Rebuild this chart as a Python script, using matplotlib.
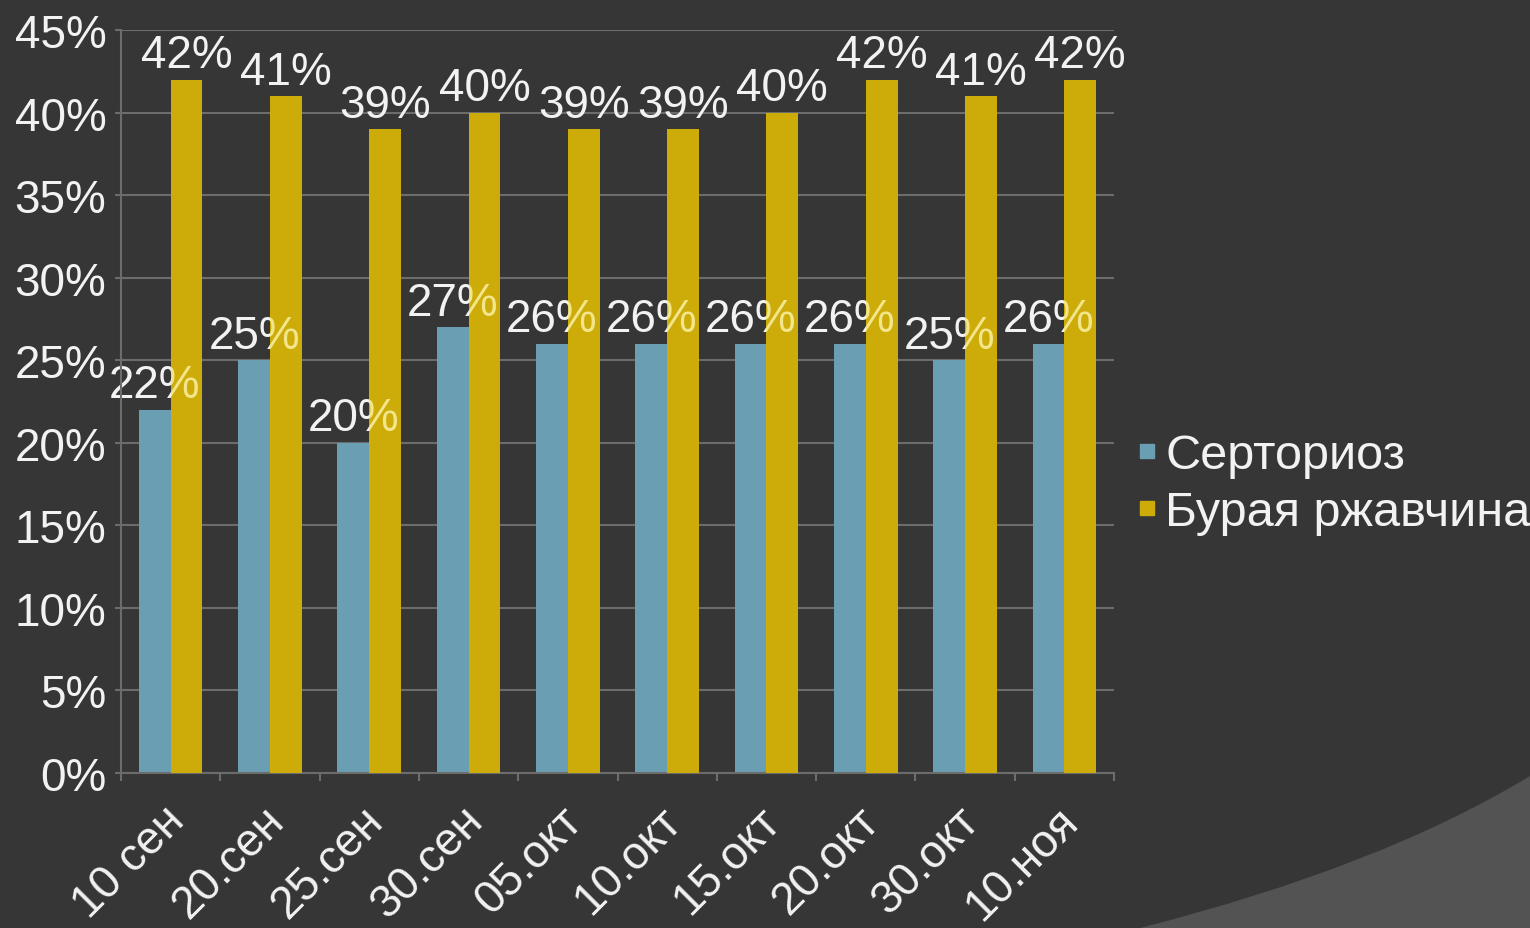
import matplotlib.pyplot as plt
import matplotlib.transforms as mtransforms
import numpy as np
from matplotlib.path import Path
from matplotlib.patches import PathPatch
from matplotlib.lines import Line2D

dates = ['10 сен', '20.сен', '25.сен', '30.сен', '05.окт',
         '10.окт', '15.окт', '20.окт', '30.окт', '10.ноя']
septoria = [22, 25, 20, 27, 26, 26, 26, 26, 25, 26]
brown_rust = [42, 41, 39, 40, 39, 39, 40, 42, 41, 42]
series_names = ['Серториоз', 'Бурая ржавчина']

bg = '#363636'
blue = '#6a9fb3'
gold = '#cdac0a'
grid_c = '#6c6c6c'
txt = '#f2f2f2'

plt.rcParams['font.family'] = ['Liberation Sans', 'DejaVu Sans']

fig = plt.figure(figsize=(15.3, 9.29), dpi=100, facecolor=bg)

# lighter curved decoration in the lower right corner
W, H = 1530, 929
pts = [(1140, 929), (1380, 868), (1530, 777), (1530, 929), (1140, 929)]
codes = [Path.MOVETO, Path.CURVE3, Path.CURVE3, Path.LINETO, Path.CLOSEPOLY]
verts = [(x / W, 1 - y / H) for x, y in pts]
fig.add_artist(PathPatch(Path(verts, codes), transform=fig.transFigure,
                         facecolor='#535353', edgecolor='none', zorder=0))

ax = fig.add_axes([0.0791, 0.1668, 0.6490, 0.7998])
ax.set_facecolor('none')

x = np.arange(len(dates))
w = 0.32
bars1 = ax.bar(x - w / 2, septoria, w, color=blue, zorder=2)
bars2 = ax.bar(x + w / 2, brown_rust, w, color=gold, zorder=3)

ax.set_xlim(-0.5, len(dates) - 0.5)
ax.set_ylim(0, 45)
ax.set_yticks(np.arange(0, 46, 5))
ax.set_yticklabels([f'{v}%' for v in range(0, 46, 5)])
ax.yaxis.grid(True, color=grid_c, lw=1.5, zorder=0)
ax.set_axisbelow(True)

ax.set_xticks(np.arange(-0.5, len(dates), 1), minor=False)
ax.set_xticklabels([])
ax.set_xticks(x, minor=True)
ax.set_xticklabels(dates, minor=True, rotation=45, ha='right',
                   rotation_mode='anchor', fontsize=33, color=txt)
ax.tick_params(axis='x', which='minor', length=0, pad=18)
ax.tick_params(axis='x', which='major', length=6, color=grid_c, width=1.5)
ax.tick_params(axis='y', length=4.5, color=grid_c, width=1.5, labelsize=33,
               labelcolor=txt, pad=6)
shift = mtransforms.ScaledTranslation(-6 / 72, 0, fig.dpi_scale_trans)
for lab in ax.get_xticklabels(minor=True):
    lab.set_transform(lab.get_transform() + shift)

for s in ['top', 'right']:
    ax.spines[s].set_visible(False)
for s in ['left', 'bottom']:
    ax.spines[s].set_color(grid_c)
    ax.spines[s].set_linewidth(1.5)

# data labels; blue-series labels are partly covered by the gold bars
fs = 33
off = 0.15
for b, v in zip(bars1, septoria):
    cx = b.get_x() + b.get_width() / 2
    ax.text(cx, v + off, f'{v}%', ha='center', va='bottom', fontsize=fs,
            color=txt, zorder=2.5)
for b1, b2, v in zip(bars1, bars2, septoria):
    cx = b1.get_x() + b1.get_width() / 2
    t = ax.text(cx, v + off, f'{v}%', ha='center', va='bottom', fontsize=fs,
                color='#f3e58a', zorder=4, clip_on=True)
    t.set_clip_path(b2)
for b, v in zip(bars2, brown_rust):
    cx = b.get_x() + b.get_width() / 2
    ax.text(cx, v + off, f'{v}%', ha='center', va='bottom', fontsize=fs,
            color=txt, zorder=5)

handles = [Line2D([], [], marker='s', ls='', color=blue, markersize=10),
           Line2D([], [], marker='s', ls='', color=gold, markersize=10)]
leg = ax.legend(handles, series_names, loc='center left',
                bbox_to_anchor=(0.744, 0.478), bbox_transform=fig.transFigure,
                frameon=False, fontsize=35, handlelength=0.35,
                handletextpad=0.2, labelspacing=0.26, borderpad=0,
                borderaxespad=0)
for t in leg.get_texts():
    t.set_color(txt)

fig.savefig('out.png', dpi=100, facecolor=bg)
